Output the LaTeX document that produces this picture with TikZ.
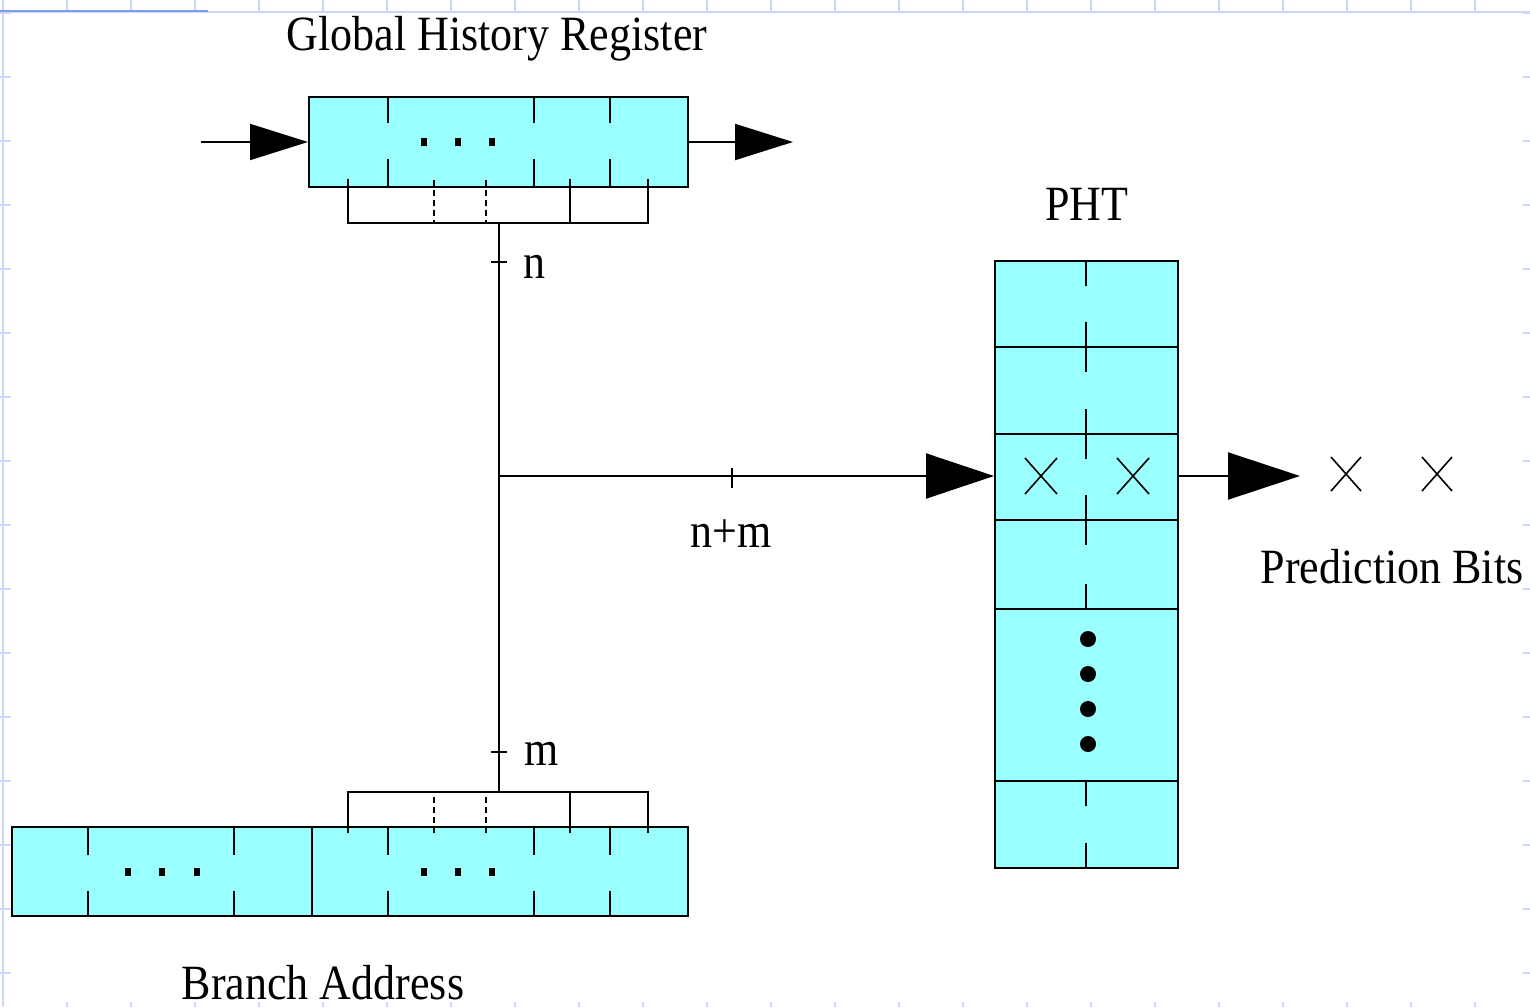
\documentclass[tikz,border=0pt]{standalone}
\usepackage{fontspec}
\usepackage{graphicx}
\setmainfont{Liberation Serif}
\usetikzlibrary{arrows.meta}
\definecolor{cellcyan}{HTML}{99FFFF}
\definecolor{gridblue}{HTML}{CBD6F8}
\definecolor{gridedge}{HTML}{7D9BF2}
\begin{document}
\begin{tikzpicture}[x=1pt,y=-1pt,
  reg/.style={draw=black, line width=2pt, fill=cellcyan, rectangle, inner sep=0pt},
  wire/.style={line width=2pt},
  thinx/.style={line width=1.6pt},
  dashwire/.style={line width=1.6pt, dash pattern=on 6pt off 4pt},
  lbl/.style={font=\fontsize{44}{50}\selectfont, inner sep=0pt, anchor=base},
  gridln/.style={gridblue, line width=1.5pt},
  ghrarrow/.style={wire, -{Triangle[length=58pt,width=36pt]}},
  phtin/.style={wire, -{Triangle[length=68pt,width=45pt]}},
  phtout/.style={wire, -{Triangle[length=72pt,width=47pt]}},
]
\useasboundingbox (0,0) rectangle (1530,1007);
\fill[white] (0,0) rectangle (1530,1007);

% background grid
\draw[gridln] (0,12) -- (1530,12);
\draw[gridln] (3,12) -- (3,1007);
\foreach \i in {0,...,23} \draw[gridln] ({3+64*\i},0) -- ({3+64*\i},12);
\foreach \i in {0,...,15} \draw[gridln] (0,{13+64*\i}) -- (11,{13+64*\i});
\foreach \i in {0,...,15} \draw[gridln] (1523,{13+64*\i}) -- (1530,{13+64*\i});
\foreach \i in {1,...,23} \draw[gridln] ({3+64*\i},1002) -- ({3+64*\i},1007);
\draw[gridedge, line width=2.5pt] (0,11) -- (208,11);

% registers
\node[reg, minimum width=379pt, minimum height=90pt] (ghr) at (498.5,142) {};
\node[reg, minimum width=676pt, minimum height=89pt] (ba) at (350,871.5) {};
\node[reg, minimum width=183pt, minimum height=607pt] (pht) at (1086.5,564.5) {};

% GHR internals
\foreach \x in {388,534,610} {
  \draw[wire] (\x,97) -- (\x,123);
  \draw[wire] (\x,159) -- (\x,187);
}
\foreach \x in {424,458,492} \fill (\x-3,138) rectangle (\x+3,146);

% GHR bracket
\draw[wire] (348,179) -- (348,223) -- (648,223) -- (648,179);
\draw[wire] (570,179) -- (570,223);
\draw[dashwire] (434,180) -- (434,223);
\draw[dashwire] (486,180) -- (486,223);

% Branch address internals
\draw[wire] (312,827) -- (312,916);
\foreach \x in {88,234,388,534,610} {
  \draw[wire] (\x,827) -- (\x,855);
  \draw[wire] (\x,891) -- (\x,916);
}
\foreach \x in {128,162,197,424,458,492} \fill (\x-3,868) rectangle (\x+3,876);

% Branch address bracket
\draw[wire] (348,833) -- (348,792) -- (648,792) -- (648,833);
\draw[wire] (570,833) -- (570,792);
\draw[dashwire] (434,833) -- (434,792);
\draw[dashwire] (486,833) -- (486,792);

% PHT internals
\foreach \y in {347,434,520,609,781} \draw[wire] (995,\y) -- (1178,\y);
\foreach \t/\b in {261/347,347/434,434/520,520/609,781/868} {
  \draw[wire] (1086,\t) -- (1086,\t+25);
  \draw[wire] (1086,\b-25) -- (1086,\b);
}
\foreach \y in {639,674,709,744} \fill (1088,\y) circle (8);
\foreach \x in {1041,1133} \draw[thinx] (\x-16,458) -- (\x+16,494) (\x-16,494) -- (\x+16,458);
\foreach \x in {1346,1437} \draw[thinx] (\x-15,457) -- (\x+15,491) (\x-15,491) -- (\x+15,457);

% connectors
\coordinate (gin) at (201,142);
\coordinate (gout) at (793,142);
\coordinate (gtap) at (499,223);
\coordinate (btap) at (499,792);
\coordinate (j) at (499,476);
\coordinate (pout) at (1300,476);
\draw[ghrarrow] (gin) -- (ghr.west);
\draw[ghrarrow] (ghr.east) -- (gout);
\draw[wire] (gtap) -- (btap);
\draw[phtin] (j) -- (j -| pht.west);
\draw[phtout] (j -| pht.east) -- (pout);
% width ticks
\draw[wire] (491,262) -- (507,262);
\draw[wire] (491,752) -- (507,752);
\draw[wire] (732,468) -- (732,488);

% labels
\node[lbl] (tghr) at (497,50) {\scalebox{1}[1.12]{Global History Register}};
\node[lbl] (tpht) at (1087,220) {\scalebox{1}[1.12]{PHT}};
\node[lbl, anchor=base west] (tn) at (523,278) {\scalebox{1}[1.12]{n}};
\node[lbl, anchor=base west] (tm) at (524,765) {\scalebox{1}[1.12]{m}};
\node[lbl] (tnm) at (731,547) {\scalebox{1}[1.12]{n+m}};
\node[lbl] (tpb) at (1392,583) {\scalebox{1}[1.12]{Prediction Bits}};
\node[lbl] (tba) at (323,999) {\scalebox{1}[1.12]{Branch Address}};
\end{tikzpicture}
\end{document}
